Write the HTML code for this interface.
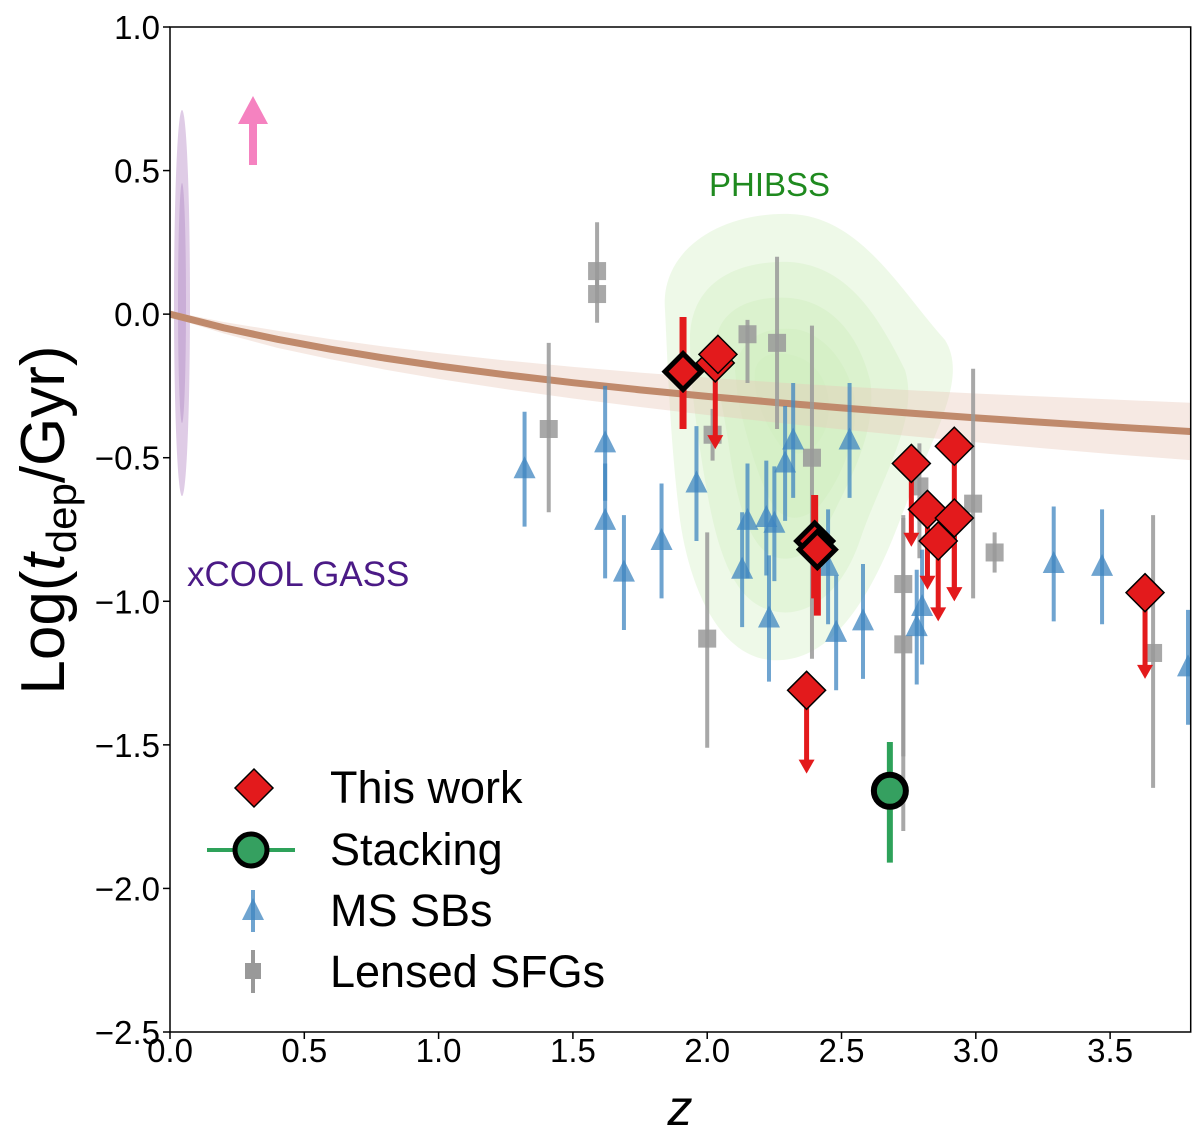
<!DOCTYPE html>
<html><head><meta charset="utf-8">
<style>
html,body{margin:0;padding:0;background:#fff;}
svg{display:block;font-family:"Liberation Sans","DejaVu Sans",sans-serif;}
</style></head>
<body>
<svg id="chart" width="1200" height="1148" viewBox="0 0 1200 1148" xmlns="http://www.w3.org/2000/svg">
<defs><clipPath id="clip"><rect x="170" y="27" width="1020" height="1005"/></clipPath></defs>
<g id="plot" clip-path="url(#clip)"></g>
<g id="axes"></g>
<g id="legend"></g>
</svg>
<script>
// ---- data ----
const xTicks = [0.0, 0.5, 1.0, 1.5, 2.0, 2.5, 3.0, 3.5];
const yTicks = [1.0, 0.5, 0.0, -0.5, -1.0, -1.5, -2.0, -2.5];
// This work
const twZ    = [1.91, 2.03, 2.04, 2.40, 2.41, 2.37, 2.76, 2.92, 2.82, 2.92, 2.86, 3.63];
const twY    = [-0.20,-0.17,-0.14,-0.79,-0.82,-1.31,-0.52,-0.46,-0.68,-0.71,-0.79,-0.97];
const twLim  = [null, -0.47, null, null, null, -1.60,-0.81,-1.00,-0.96,-1.00,-1.07,-1.27];
const twErrHi= [0.19, 0, 0, 0.16, 0.06, 0, 0,0,0,0,0,0];
const twErrLo= [0.20, 0, 0, 0.20, 0.23, 0, 0,0,0,0,0,0];
const twBold = [1,0,0,1,1,0,0,0,0,0,0,0];
// Stacking
const stZ = [2.68], stY = [-1.66], stHi=[0.17], stLo=[0.25];
// MS SBs
const msZ = [1.32,1.62,1.62,1.69,1.83,1.96,2.13,2.15,2.22,2.23,2.25,2.29,2.32,2.45,2.48,2.53,2.58,2.78,2.80,3.29,3.47,3.79];
const msY = [-0.54,-0.45,-0.72,-0.90,-0.79,-0.59,-0.89,-0.72,-0.71,-1.06,-0.73,-0.52,-0.44,-0.88,-1.11,-0.44,-1.07,-1.09,-1.02,-0.87,-0.88,-1.23];
const msErr= [0.20,0.20,0.20,0.20,0.20,0.20,0.20,0.20,0.20,0.22,0.20,0.20,0.20,0.20,0.20,0.20,0.20,0.20,0.20,0.20,0.20,0.20];
// Lensed SFGs
const lsZ  = [1.59,1.59,1.41,2.15,2.26,2.02,2.39,2.00,2.73,2.73,2.79,2.99,3.07,3.66];
const lsY  = [0.15,0.07,-0.40,-0.07,-0.10,-0.42,-0.50,-1.13,-0.94,-1.15,-0.60,-0.66,-0.83,-1.18];
const lsHi = [0.17,0.05,0.30,0.05,0.30,0.09,0.46,0.37,0.24,0.44,0.15,0.47,0.07,0.48];
const lsLo = [0.05,0.10,0.29,0.17,0.30,0.09,0.70,0.38,0.60,0.65,0.25,0.33,0.07,0.47];
// Scaling relation
const relZ = [0,0.2,0.4,0.6,0.8,1.0,1.25,1.5,1.75,2.0,2.25,2.5,2.75,3.0,3.25,3.5,3.8];
const relSlope = -0.6;
const relBand  = [0.01,0.02,0.03,0.035,0.04,0.045,0.05,0.055,0.06,0.065,0.07,0.075,0.08,0.085,0.09,0.095,0.10];

// ---- axes functions ----
const X0=170, X1=1190.7, Y0=27, Y1=1032;
const xs = z => X0 + (z-0)/(3.8-0)*(X1-X0);
const ys = v => Y0 + (1.0-v)/(3.5)*(Y1-Y0);
const NS="http://www.w3.org/2000/svg";
function mk(tag, attrs, parent){const e=document.createElementNS(NS,tag);for(const k in attrs)e.setAttribute(k,attrs[k]);parent.appendChild(e);return e;}
const plot=document.getElementById('plot'), axes=document.getElementById('axes'), leg=document.getElementById('legend');

let e1=mk('ellipse',{cx:182,cy:303,rx:8,ry:193,fill:'#b98fc8','fill-opacity':0.45},plot);


let e2=mk('ellipse',{cx:182,cy:303,rx:4,ry:120,fill:'#9c6bb5','fill-opacity':0.3},plot);



const phib=[
 {d:'M665,310 C660,250 720,212 790,214 C860,216 900,290 945,340 C970,380 930,440 900,520 C870,600 830,665 770,660 C720,655 690,590 680,520 C670,440 668,370 665,310 Z',o:0.35},
 {d:'M690,340 C690,280 740,260 790,262 C850,266 880,320 905,370 C920,420 880,480 860,540 C840,600 800,620 770,610 C730,600 715,540 705,480 C695,420 690,380 690,340 Z',o:0.35},
 {d:'M715,350 C715,310 750,295 790,298 C835,302 860,340 870,380 C878,430 850,480 830,520 C815,555 790,565 770,555 C745,540 735,490 728,440 C722,400 715,380 715,350 Z',o:0.4},
 {d:'M735,370 C740,335 770,325 800,330 C830,338 850,370 855,400 C858,440 840,480 820,505 C800,525 780,520 770,500 C755,470 745,430 738,400 Z',o:0.4},
 {d:'M755,370 C760,350 785,350 805,360 C825,372 835,400 825,430 C815,455 795,460 780,445 C765,425 752,395 755,370 Z',o:0.4}
];
phib.forEach((p,i)=>{const el=mk('path',{d:p.d,fill:'#cfeebd','fill-opacity':p.o},plot);
 
 });

let up='',dn='',ln='';
relZ.forEach((z,i)=>{const v=relSlope*Math.log10(1+z);up+=(i?'L':'M')+xs(z)+','+ys(v+relBand[i]);ln+=(i?'L':'M')+xs(z)+','+ys(v);});
for(let i=relZ.length-1;i>=0;i--){const v=relSlope*Math.log10(1+relZ[i]);dn+='L'+xs(relZ[i])+','+ys(v-relBand[i]);}
let band=mk('path',{d:up+dn+'Z',fill:'#e8c8b8','fill-opacity':0.4},plot);


let rl=mk('path',{d:ln,fill:'none',stroke:'#c08a6c','stroke-width':7},plot);



let pa=mk('path',{d:'M249,165 L249,124 L238,124 L253,96 L268,124 L257,124 L257,165 Z',fill:'#f582c0'},plot);



lsZ.forEach((z,i)=>{const x=xs(z),y=ys(lsY[i]);
 const g=mk('g',{},plot);
 
 
 mk('line',{x1:x,x2:x,y1:ys(lsY[i]+lsHi[i]),y2:ys(lsY[i]-lsLo[i]),stroke:'#999','stroke-width':4,'stroke-opacity':0.85},g);
 mk('rect',{x:x-9,y:y-9,width:18,height:18,fill:'#999','fill-opacity':0.85},g);});

msZ.forEach((z,i)=>{const x=xs(z),y=ys(msY[i]),e=msErr[i];
 const g=mk('g',{},plot);
 
 
 mk('line',{x1:x,x2:x,y1:ys(msY[i]+e),y2:ys(msY[i]-e),stroke:'#3f86c0','stroke-width':4,'stroke-opacity':0.75},g);
 mk('path',{d:`M${x},${y-13} L${x+11},${y+9} L${x-11},${y+9} Z`,fill:'#3f86c0','fill-opacity':0.75},g);});

stZ.forEach((z,i)=>{const x=xs(z),y=ys(stY[i]);
 const g=mk('g',{},plot);
 
 
 mk('line',{x1:x,x2:x,y1:ys(stY[i]+stHi[i]),y2:ys(stY[i]-stLo[i]),stroke:'#2ea25a','stroke-width':6},g);
 mk('circle',{cx:x,cy:y,r:16,fill:'#35a060',stroke:'#000','stroke-width':6},g);});

twZ.forEach((z,i)=>{const x=xs(z),y=ys(twY[i]);
 const g=mk('g',{},plot);
 
 
 if(twLim[i]!==null){const ye=ys(twLim[i]);
   mk('line',{x1:x,x2:x,y1:y,y2:ye-12,stroke:'#e31a1c','stroke-width':5},g);
   mk('path',{d:`M${x-8},${ye-14} L${x+8},${ye-14} L${x},${ye} Z`,fill:'#e31a1c'},g);}
 else if(twErrHi[i]>0){mk('line',{x1:x,x2:x,y1:ys(twY[i]+twErrHi[i]),y2:ys(twY[i]-twErrLo[i]),stroke:'#e31a1c','stroke-width':7},g);}
 const r=twBold[i]?18:19;
 mk('path',{d:`M${x},${y-r} L${x+r},${y} L${x},${y+r} L${x-r},${y} Z`,fill:'#e31a1c',stroke:'#000','stroke-width':twBold[i]?5:1.5},g);});

let fr=mk('rect',{x:X0,y:Y0,width:X1-X0,height:Y1-Y0,fill:'none',stroke:'#000','stroke-width':1.5},axes);


const fmt=v=>(v<0?'\u2212':'')+Math.abs(v).toFixed(1);
xTicks.forEach(t=>{const x=xs(t);
 mk('line',{x1:x,x2:x,y1:Y1,y2:Y1+7,stroke:'#000','stroke-width':1.5},axes);
 const tx=mk('text',{x:x,y:Y1+30,'font-size':33,'text-anchor':'middle',fill:'#000'},axes);tx.textContent=fmt(t);
 
 });
yTicks.forEach(t=>{const y=ys(t);
 mk('line',{x1:X0-7,x2:X0,y1:y,y2:y,stroke:'#000','stroke-width':1.5},axes);
 const tx=mk('text',{x:X0-10,y:y+12,'font-size':33,'text-anchor':'end',fill:'#000'},axes);tx.textContent=fmt(t);
 
 });
</script>
<svg style="position:absolute;left:0;top:0" width="1200" height="1148">
<text x="680" y="1125" font-size="50" font-style="italic" text-anchor="middle" font-family="Liberation Sans, sans-serif">z</text>
<text transform="translate(64,520) rotate(-90)" font-size="62" text-anchor="middle" font-family="Liberation Sans, sans-serif">Log(<tspan font-style="italic">t</tspan><tspan font-size="42" dy="12">dep</tspan><tspan dy="-12">/Gyr)</tspan></text>
<text x="709" y="196" font-size="33" fill="#1f8a1f" font-family="Liberation Sans, sans-serif">PHIBSS</text>
<text x="187" y="586" font-size="35" fill="#4b1a86" font-family="Liberation Sans, sans-serif">xCOOL GASS</text>
<g>
<path d="M254,769 L273,788 L254,807 L235,788 Z" fill="#e31a1c" stroke="#000" stroke-width="1.5"/>
<text x="330" y="803" font-size="45" font-family="Liberation Sans, sans-serif">This work</text></g>
<g>
<line x1="207" x2="295" y1="850" y2="850" stroke="#2ea25a" stroke-width="4"/>
<circle cx="251" cy="850" r="16" fill="#35a060" stroke="#000" stroke-width="5"/>
<text x="330" y="865" font-size="45" font-family="Liberation Sans, sans-serif">Stacking</text></g>
<g>
<line x1="253" x2="253" y1="890" y2="932" stroke="#3f86c0" stroke-width="4" stroke-opacity="0.75"/>
<path d="M253,898 L264,920 L242,920 Z" fill="#3f86c0" fill-opacity="0.75"/>
<text x="330" y="926" font-size="45" font-family="Liberation Sans, sans-serif">MS SBs</text></g>
<g>
<line x1="253" x2="253" y1="950" y2="993" stroke="#999" stroke-width="4"/>
<rect x="245" y="963" width="16" height="16" fill="#999"/>
<text x="330" y="987" font-size="45" font-family="Liberation Sans, sans-serif">Lensed SFGs</text></g>
</svg>
</body></html>
